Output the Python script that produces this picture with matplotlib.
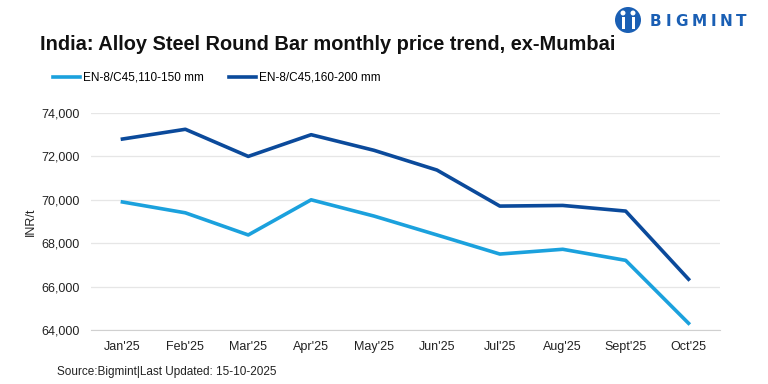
import matplotlib.pyplot as plt
from matplotlib.ticker import FuncFormatter
from matplotlib.patches import Ellipse, Rectangle

# data
months = ["Jan'25", "Feb'25", "Mar'25", "Apr'25", "May'25", "Jun'25",
          "Jul'25", "Aug'25", "Sept'25", "Oct'25"]
small_bar = [69900, 69400, 68380, 70000, 69250, 68380, 67500, 67720, 67210, 64310]
large_bar = [72800, 73250, 72000, 73000, 72280, 71370, 69710, 69740, 69480, 66340]

light_blue = '#1ba1dd'
dark_blue = '#0b4a9b'
logo_blue = '#1a5fb4'

plt.rcParams['font.family'] = ['Liberation Sans', 'DejaVu Sans']

W, H = 768, 384
fig = plt.figure(figsize=(W/100, H/100), dpi=100)
ax = fig.add_axes([91/W, 1 - 330/H, (720-91)/W, (330-113)/H])

ax.plot(months, small_bar, color=light_blue, linewidth=2.6, label='EN-8/C45,110-150 mm')
ax.plot(months, large_bar, color=dark_blue, linewidth=2.6, label='EN-8/C45,160-200 mm')

ax.set_ylim(64000, 74000)
ax.set_xlim(-0.5, len(months) - 0.5)
ax.set_yticks(range(64000, 74001, 2000))
ax.yaxis.set_major_formatter(FuncFormatter(lambda v, p: f'{int(v):,}'))
ax.grid(axis='y', color='#e6e6e6', linewidth=0.9)
ax.set_axisbelow(True)
for s in ['top', 'right', 'left']:
    ax.spines[s].set_visible(False)
ax.spines['bottom'].set_color('#d0d0d0')
ax.tick_params(axis='both', length=0, labelsize=9, colors='#222222')
ax.tick_params(axis='x', pad=8)
ax.tick_params(axis='y', pad=8)
ax.set_ylabel('INR/t', fontsize=9, color='#222222', labelpad=3)

# title, legend, source
fig.text(40/W, 1 - 45/H, 'India: Alloy Steel Round Bar monthly price trend, ex-Mumbai',
         fontsize=14.4, fontweight='bold', color='#111111', va='center')
fig.legend(loc='center left', bbox_to_anchor=(53/W, 1 - 78/H), ncol=2, frameon=False,
           fontsize=8.5, handlelength=2.3, handletextpad=0.25, columnspacing=2.1,
           borderpad=0, borderaxespad=0)
fig.text(57/W, 1 - 372/H, 'Source:Bigmint|Last Updated: 15-10-2025',
         fontsize=8.5, color='#222222', va='center')

# logo: round icon + spaced letters
fig.patches.append(Ellipse((628/W, 1 - 20/H), 26/W, 26/H, transform=fig.transFigure,
                           facecolor=logo_blue, edgecolor='none'))
for dx in (-5, 5):
    fig.patches.append(Rectangle(((628 + dx - 1.5)/W, 1 - 29/H), 3/W, 12/H,
                                 transform=fig.transFigure, facecolor='white', edgecolor='none'))
    fig.patches.append(Ellipse(((628 + dx)/W, 1 - 13/H), 5/W, 5/H, transform=fig.transFigure,
                               facecolor='white', edgecolor='none'))
letters = 'BIGMINT'
offsets = [0, 16, 25, 42, 61, 70, 86]
for ch, off in zip(letters, offsets):
    fig.text((650 + off)/W, 1 - 21/H, ch, fontsize=11, fontweight='bold', color=logo_blue,
             va='center', family=['DejaVu Sans'])

fig.savefig('out.png', dpi=100)
